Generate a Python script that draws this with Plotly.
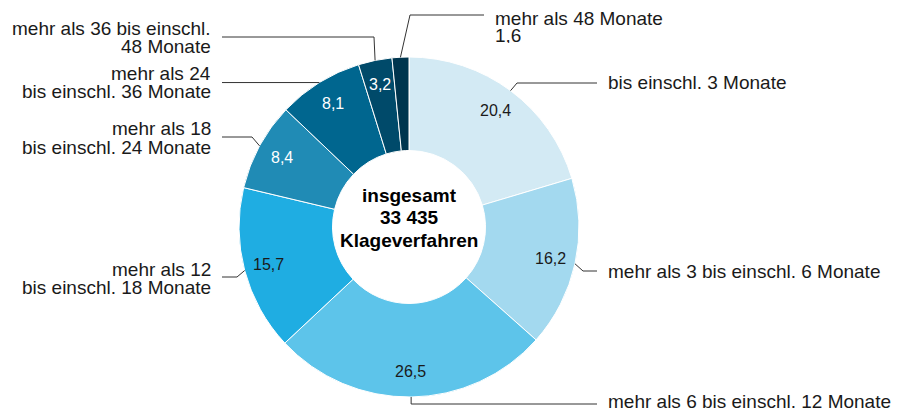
import math
import plotly.graph_objects as go

# ---------------- data ----------------
categories = [
    "bis einschl. 3 Monate",
    "mehr als 3 bis einschl. 6 Monate",
    "mehr als 6 bis einschl. 12 Monate",
    "mehr als 12 bis einschl. 18 Monate",
    "mehr als 18 bis einschl. 24 Monate",
    "mehr als 24 bis einschl. 36 Monate",
    "mehr als 36 bis einschl. 48 Monate",
    "mehr als 48 Monate",
]
values = [20.4, 16.2, 26.5, 15.7, 8.4, 8.1, 3.2, 1.6]
value_labels = ["20,4", "16,2", "26,5", "15,7", "8,4", "8,1", "3,2", "1,6"]
label_lines = [
    ["bis einschl. 3 Monate"],
    ["mehr als 3 bis einschl. 6 Monate"],
    ["mehr als 6 bis einschl. 12 Monate"],
    ["mehr als 12", "bis einschl. 18 Monate"],
    ["mehr als 18", "bis einschl. 24 Monate"],
    ["mehr als 24", "bis einschl. 36 Monate"],
    ["mehr als 36 bis einschl.", "48 Monate"],
    ["mehr als 48 Monate", "1,6"],
]
center_lines = ["insgesamt", "33 435", "Klageverfahren"]

# ---------------- style / layout ----------------
colors = ["#d3eaf4", "#a3d9ef", "#5dc4ea", "#1fade2", "#208bb5", "#00668f", "#004a6a", "#00354e"]
text_colors = ["#1a1a1a", "#1a1a1a", "#1a1a1a", "#1a1a1a", "#ffffff", "#ffffff", "#ffffff", "#ffffff"]
show_inside = [True, True, True, True, True, True, True, False]
FONT = "Liberation Sans, Arial, sans-serif"
LINE_COLOR = "#333333"
W, H = 901, 412
OFF = 8                      # page body margin of the rendered html
CX, CY, R = 409, 227, 170    # page pixels
HOLE = 0.45
LABEL_R = 145                # radius of value labels (page pixels)

# leader geometry (page pixels): elbow points, end point, label anchor x, align, line centres
leaders = [
    dict(elbow=[(517, 83)], end=(597, 83), lx=606, align="left", ly=[82]),
    dict(elbow=[(583, 271)], end=(597, 271), lx=606, align="left", ly=[271]),
    dict(elbow=[("sx", 404)], end=(597, 404), lx=606, align="left", ly=[401]),
    dict(elbow=[(237, 277)], end=(222, 277), lx=213, align="right", ly=[269, 287]),
    dict(elbow=[(252, 137)], end=(222, 137), lx=213, align="right", ly=[128, 147]),
    dict(elbow=[], end=(222, "sy"), lx=213, align="right", ly=[73, 91]),
    dict(elbow=[(374, 37)], end=(222, 37), lx=213, align="right", ly=[29, 47]),
    dict(elbow=[(410, 15)], end=(484, 15), lx=493, align="left", ly=[18, 35]),
]
center_ly = [195, 217, 240]


def px(x):
    return (x - OFF) / W


def py(y):
    return 1 - (y - OFF) / H


fig = go.Figure()
fig.add_trace(go.Pie(
    labels=categories,
    values=values,
    textinfo="none",
    sort=False,
    direction="clockwise",
    rotation=0,
    hole=HOLE,
    marker=dict(colors=colors, line=dict(color="#ffffff", width=1)),
    domain=dict(x=[px(CX - R), px(CX + R)], y=[py(CY + R), py(CY - R)]),
    showlegend=False,
    hoverinfo="label+value",
))

shapes = []
annotations = []
total = sum(values)
cum = 0.0
for i, v in enumerate(values):
    mid = (cum + v / 2) / total * 2 * math.pi
    cum += v
    sx = CX + R * math.sin(mid)
    sy = CY - R * math.cos(mid)
    # value label inside the ring
    if show_inside[i]:
        annotations.append(dict(text=value_labels[i], xref="paper", yref="paper",
                                x=px(CX + LABEL_R * math.sin(mid)), y=py(CY - LABEL_R * math.cos(mid)),
                                xanchor="center", yanchor="middle", showarrow=False,
                                font=dict(family=FONT, size=16, color=text_colors[i])))
    # leader line
    ld = leaders[i]
    pts = [(sx, sy)]
    for ex, ey in ld["elbow"]:
        pts.append((sx if ex == "sx" else ex, sy if ey == "sy" else ey))
    ex, ey = ld["end"]
    pts.append((sx if ex == "sx" else ex, sy if ey == "sy" else ey))
    for (x0, y0), (x1, y1) in zip(pts[:-1], pts[1:]):
        shapes.append(dict(type="line", xref="paper", yref="paper",
                           x0=px(x0), y0=py(y0), x1=px(x1), y1=py(y1),
                           line=dict(color=LINE_COLOR, width=1)))
    # category label
    lys = ld["ly"]
    step = (lys[1] - lys[0] - 1) if len(lys) > 1 else None
    for line, yy in zip(label_lines[i], lys):
        a = dict(text=line, xref="paper", yref="paper",
                 x=px(ld["lx"]), y=py(yy), xanchor=ld["align"], yanchor="middle",
                 showarrow=False, align=ld["align"], valign="middle",
                 font=dict(family=FONT, size=19, color="#1a1a1a"))
        if step:
            a["height"] = step
        annotations.append(a)

for line, yy in zip(center_lines, center_ly):
    annotations.append(dict(text="<b>" + line + "</b>", xref="paper", yref="paper",
                            x=px(CX), y=py(yy), xanchor="center", yanchor="middle",
                            showarrow=False, height=21, valign="middle",
                            font=dict(family=FONT, size=19, color="#000000")))

fig.update_layout(
    width=W, height=H,
    margin=dict(l=0, r=0, t=0, b=0),
    paper_bgcolor="#ffffff",
    plot_bgcolor="#ffffff",
    shapes=shapes,
    annotations=annotations,
)

fig.write_html("out.html")
